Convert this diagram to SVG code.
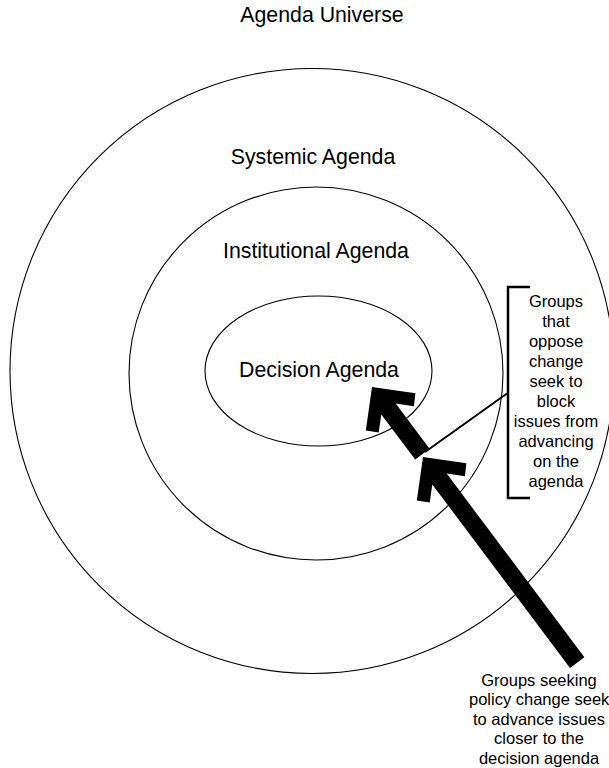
<svg xmlns="http://www.w3.org/2000/svg" width="609" height="768" viewBox="0 0 609 768">
<style>
.ring{fill:none;stroke:#000;stroke-width:1.1}
.lbl{font-family:"Liberation Sans",Arial,sans-serif;font-size:21.3px;fill:#000;text-anchor:middle}
.note{font-family:"Liberation Sans",Arial,sans-serif;font-size:16.5px;fill:#000;text-anchor:middle}
.thin{fill:none;stroke:#000;stroke-width:2}
.brk{fill:none;stroke:#000;stroke-width:2.5}
.arrow{fill:#000;stroke:none}
</style>
<rect width="609" height="768" fill="#fff"/>
<g id="universe">
<text class="lbl" x="322" y="22">Agenda Universe</text>
</g>
<g id="systemic">
<ellipse class="ring" cx="312" cy="371" rx="302" ry="302.5"/>
<text class="lbl" x="313" y="164">Systemic Agenda</text>
</g>
<g id="institutional">
<ellipse class="ring" cx="316" cy="373.5" rx="187" ry="186.5"/>
<text class="lbl" x="316" y="258">Institutional Agenda</text>
</g>
<g id="decision">
<ellipse class="ring" cx="318.5" cy="371" rx="113.5" ry="75"/>
<text class="lbl" x="319" y="377">Decision Agenda</text>
</g>
<g id="opponents">
<path class="brk" d="M530,287 L508,287 L508,498 L530,498"/>
<text class="note" x="556"><tspan x="556" y="307">Groups</tspan><tspan x="556" y="327">that</tspan><tspan x="556" y="347">oppose</tspan><tspan x="556" y="367">change</tspan><tspan x="556" y="387">seek to</tspan><tspan x="556" y="407">block</tspan><tspan x="556" y="427">issues from</tspan><tspan x="556" y="447">advancing</tspan><tspan x="556" y="467">on the</tspan><tspan x="556" y="487">agenda</tspan></text>
</g>
<g id="advocates">
<text class="note" x="539"><tspan x="539" y="685.5">Groups seeking</tspan><tspan x="469" y="705" text-anchor="start">policy change seek</tspan><tspan x="539" y="724.5">to advance issues</tspan><tspan x="539" y="744">closer to the</tspan><tspan x="539" y="763.5">decision agenda</tspan></text>
</g>
<g id="connectors">
<path class="arrow" transform="translate(423,457) rotate(233.13)" d="M0,0 L-31,31 L-40.5,22 L-27.5,9 L-257,9 L-257,-9 L-27.5,-9 L-40.5,-22 L-31,-31 Z"/>
<path class="arrow" transform="translate(372,387) rotate(233.13)" d="M0,0 L-31,31 L-40.5,22 L-27.5,9 L-84,9 L-84,-9 L-27.5,-9 L-40.5,-22 L-31,-31 Z"/>
<line class="thin" x1="507" y1="393.5" x2="425" y2="452"/>
</g>
</svg>
